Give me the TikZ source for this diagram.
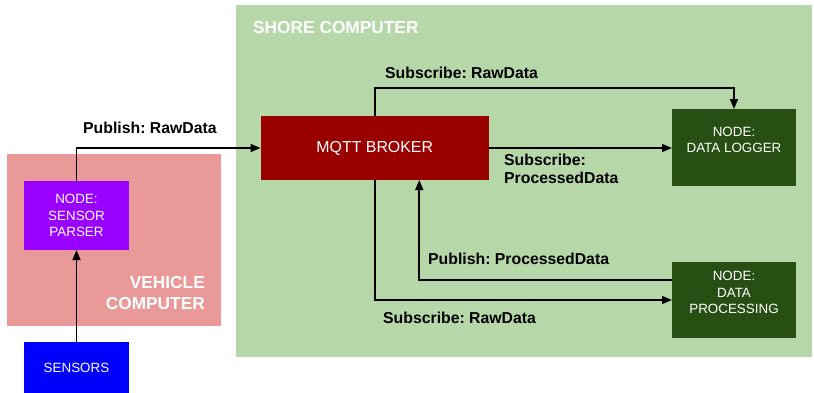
\documentclass[tikz,border=0pt]{standalone}
\usepackage{fontspec}
\setmainfont{Liberation Sans}
\usepackage{tikz}
\usetikzlibrary{arrows.meta,positioning,calc}
\usepackage{xcolor}
\definecolor{shoregreen}{RGB}{182,215,168}
\definecolor{vehiclered}{RGB}{234,153,153}
\definecolor{parserpurple}{RGB}{153,0,255}
\definecolor{sensorblue}{RGB}{0,0,255}
\definecolor{brokerred}{RGB}{153,0,0}
\definecolor{nodegreen}{RGB}{39,78,19}
\frenchspacing

\begin{document}
\begin{tikzpicture}[
    x=1pt, y=-1pt,
    area/.style={rectangle, inner sep=0pt, outer sep=0pt},
    block/.style={rectangle, inner sep=0pt, outer sep=0pt, text=white, align=center, font=\fontsize{13.4}{16.5}\selectfont},
    title/.style={inner sep=0pt, text=white, font=\fontsize{17.3}{20.6}\selectfont\bfseries},
    msg/.style={inner sep=0pt, anchor=west, align=left, font=\fontsize{15.8}{18}\selectfont\bfseries},
    arrow/.style={-{Triangle[length=10pt,width=8pt]}, line width=1.6pt, black}
]
\useasboundingbox (0,0) rectangle (814,392);

% computers
\node[area, fill=shoregreen, minimum width=576pt, minimum height=352pt] (shore) at (524,181) {};
\node[area, fill=vehiclered, minimum width=214pt, minimum height=172pt] (vehicle) at (114,240) {};
\node[title, anchor=west] (shoretitle) at (253,28) {SHORE COMPUTER};
\node[title, anchor=east, align=right] (vehicletitle) at (205,293) {VEHICLE\\COMPUTER};

% blocks
\node[block, fill=parserpurple, minimum width=105pt, minimum height=69pt] (parser) at (76.5,215.5) {NODE:\\SENSOR\\PARSER};
\node[block, fill=sensorblue, minimum width=105pt, minimum height=51pt] (sensors) at (76.5,367.5) {SENSORS};
\node[block, fill=brokerred, minimum width=228.5pt, minimum height=64pt, font=\fontsize{15.9}{19}\selectfont] (broker) at (374.75,148) {MQTT BROKER};
\node[block, fill=nodegreen, minimum width=124pt, minimum height=77pt] (logger) at (734,147.5) {};
\node[block, fill=nodegreen, minimum width=124pt, minimum height=76pt] (processing) at (734,300) {};
\node[block] (loggertext) at ([yshift=7.5pt]logger.center) {NODE:\\DATA LOGGER};
\node[block] (processingtext) at ([yshift=7.5pt]processing.center) {NODE:\\DATA\\PROCESSING};

% topics
\node[msg] (pubraw) at (83,128) {Publish: RawData};
\node[msg] (subrawtop) at (385,73) {Subscribe: RawData};
\node[msg] (subproc) at (504,169) {Subscribe:\\ProcessedData};
\node[msg] (pubproc) at (428,259) {Publish: ProcessedData};
\node[msg] (subrawlow) at (383,318) {Subscribe: RawData};

\draw[arrow] (sensors) -- (parser);
\draw[arrow] (parser.north) |- (broker.west);
\draw[arrow] (broker.north) -- ++(0,-28) -| (logger.north);
\draw[arrow] (broker.east) -- (broker.east -| logger.west);
\draw[arrow] ([yshift=20pt]processing.west) -| ([xshift=44.5pt]broker.south);
\draw[arrow] (broker.south) |- (processing.west);
\end{tikzpicture}
\end{document}
